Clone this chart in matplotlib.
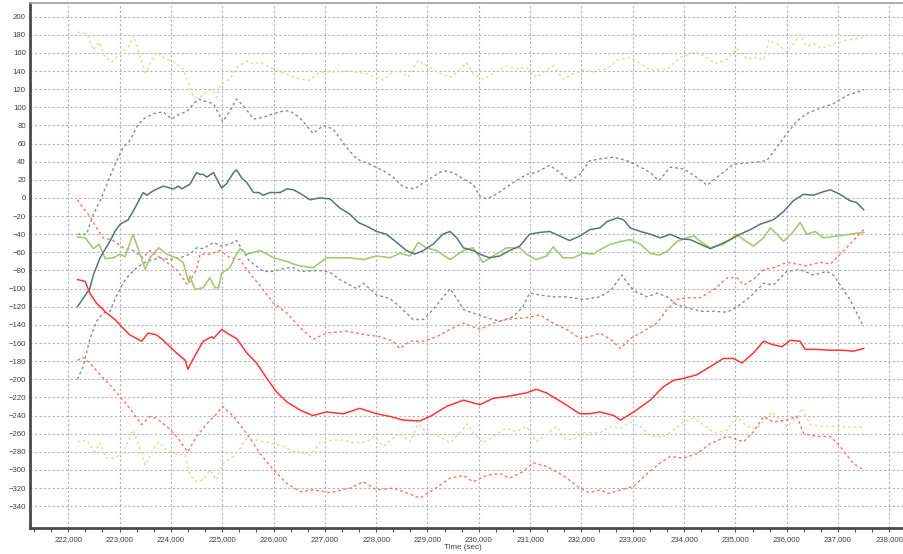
import matplotlib
matplotlib.use("Agg")
import matplotlib.pyplot as plt
from matplotlib.ticker import FuncFormatter, MultipleLocator

plt.rcParams["font.family"] = ["Liberation Sans", "DejaVu Sans"]

# gray series: mean and band
gray_mean_t = [222180, 222420, 222490, 222620, 222810, 222910, 223010, 223170, 223300, 223460, 223530, 223660,
               223850, 224050, 224150, 224210, 224370, 224500, 224570, 224630, 224700, 224830, 224930, 224990,
               225090, 225220, 225280, 225380, 225480, 225610, 225710, 225800, 225930, 226130, 226260, 226390,
               226520, 226710, 226900, 227100, 227290, 227490, 227650, 227810, 228010, 228200, 228400, 228590,
               228750, 228920, 229110, 229300, 229440, 229570, 229700, 229890, 230020, 230210, 230410, 230600,
               230800, 230990, 231190, 231380, 231580, 231770, 231970, 232160, 232360, 232500, 232700, 232820,
               232950, 233150, 233340, 233540, 233730, 233930, 234120, 234320, 234510, 234710, 234900, 235090,
               235290, 235480, 235740, 235940, 236130, 236330, 236520, 236720, 236850, 237040, 237230, 237360,
               237500]
gray_mean_v = [-120, -100, -85, -66, -48, -37, -29, -24, -11, 6, 3, 8,
               13, 10, 13, 10, 15, 28, 26, 26, 23, 28, 17, 11,
               16, 28, 31, 22, 17, 6, 6, 3, 6, 6, 10, 9,
               5, -2, 0, -1, -11, -18, -27, -31, -37, -40, -49, -58,
               -62, -58, -51, -40, -37, -44, -55, -58, -62, -66, -64, -58,
               -53, -40, -38, -37, -42, -47, -42, -35, -33, -26, -22, -24,
               -33, -37, -40, -44, -40, -45, -46, -51, -56, -51, -46, -40,
               -35, -29, -24, -15, -3, 4, 3, 7, 9, 4, -3, -5,
               -13]

gray_hi_t = [222180, 222360, 222490, 222620, 222810, 222910, 223070, 223200, 223330, 223460, 223660, 223850,
             224020, 224180, 224310, 224440, 224540, 224700, 224830, 224930, 225010, 225150, 225280, 225410,
             225610, 225800, 226000, 226200, 226320, 226520, 226770, 226970, 227160, 227420, 227620, 227880,
             228140, 228330, 228530, 228750, 228980, 229180, 229300, 229500, 229700, 229890, 230020, 230150,
             230340, 230540, 230730, 230930, 231120, 231380, 231580, 231770, 231970, 232160, 232360, 232630,
             232890, 233150, 233340, 233510, 233730, 233990, 234190, 234450, 234710, 234960, 235290, 235610,
             235810, 236000, 236200, 236390, 236650, 236910, 237170, 237500]
gray_hi_v = [-40, -40, -18, -3, 23, 37, 56, 63, 78, 87, 93, 95,
             87, 93, 95, 104, 109, 106, 104, 93, 84, 96, 109, 102,
             87, 89, 93, 96, 96, 88, 71, 80, 76, 56, 43, 37,
             30, 23, 12, 10, 19, 26, 30, 28, 21, 15, 2, -1,
             4, 12, 19, 26, 28, 36, 28, 19, 26, 41, 43, 45,
             41, 34, 28, 19, 34, 32, 25, 14, 26, 37, 39, 41,
             56, 71, 85, 93, 99, 104, 113, 119]

gray_lo_t = [222180, 222290, 222420, 222550, 222680, 222810, 222940, 223070, 223140, 223330, 223530, 223790,
             223980, 224180, 224370, 224500, 224630, 224830, 224960, 225150, 225280, 225380, 225510, 225610,
             225800, 226000, 226260, 226390, 226520, 226900, 227100, 227290, 227620, 227750, 228010, 228270,
             228460, 228720, 228920, 229110, 229440, 229630, 229700, 229890, 230150, 230410, 230670, 230860,
             230990, 231190, 231450, 231710, 232030, 232360, 232570, 232790, 232950, 233080, 233280, 233470,
             233670, 233860, 234060, 234320, 234580, 234840, 235030, 235290, 235550, 235740, 236000, 236260,
             236520, 236780, 236910, 237040, 237230, 237500]
gray_lo_v = [-200, -186, -156, -136, -127, -125, -108, -94, -88, -77, -70, -66,
             -68, -66, -62, -55, -56, -49, -53, -51, -47, -56, -68, -73,
             -81, -81, -77, -77, -81, -80, -82, -90, -100, -94, -107, -111,
             -120, -134, -134, -123, -100, -116, -123, -127, -132, -136, -131, -120,
             -105, -107, -109, -109, -112, -109, -102, -85, -98, -104, -109, -105,
             -109, -118, -121, -125, -125, -126, -120, -109, -94, -96, -81, -79,
             -85, -81, -85, -96, -112, -142]

# red series
red_mean_t = [222180, 222330, 222420, 222550, 222750, 222910, 223040, 223200, 223430, 223560, 223720, 223850,
              223980, 224110, 224280, 224330, 224440, 224630, 224800, 224830, 224990, 225150, 225280, 225480,
              225670, 225870, 226060, 226260, 226520, 226770, 227030, 227360, 227680, 228010, 228270, 228530,
              228850, 229050, 229370, 229700, 229890, 230020, 230280, 230540, 230930, 231120, 231320, 231640,
              231970, 232160, 232360, 232630, 232760, 233020, 233340, 233600, 233800, 233990, 234250, 234510,
              234770, 234960, 235130, 235350, 235550, 235740, 235910, 236070, 236260, 236360, 236590, 236850,
              237100, 237300, 237500]
red_mean_v = [-90, -92, -105, -116, -127, -134, -142, -151, -158, -149, -151, -157,
              -164, -171, -179, -189, -177, -158, -153, -155, -145, -151, -155, -171,
              -182, -199, -214, -225, -234, -240, -236, -238, -232, -238, -241, -245,
              -246, -241, -230, -223, -226, -228, -221, -219, -215, -211, -215, -226,
              -238, -238, -236, -240, -245, -236, -223, -208, -201, -199, -195, -186,
              -177, -177, -182, -171, -158, -162, -164, -157, -158, -167, -167, -168,
              -168, -169, -166]

red_hi_t = [222180, 222290, 222420, 222550, 222680, 222880, 223070, 223270, 223460, 223590, 223790, 223920,
            224110, 224330, 224500, 224570, 224760, 224960, 225150, 225350, 225480, 225740, 226000, 226260,
            226520, 226770, 227030, 227420, 227810, 228070, 228330, 228460, 228660, 228920, 229180, 229440,
            229700, 230020, 230280, 230540, 230930, 231190, 231450, 231710, 231970, 232160, 232360, 232570,
            232760, 232950, 233210, 233470, 233670, 233860, 234060, 234320, 234580, 234840, 235030, 235160,
            235350, 235550, 235740, 236000, 236200, 236390, 236650, 236850, 237040, 237230, 237500]
red_hi_v = [-2, -11, -20, -33, -44, -47, -55, -58, -66, -58, -66, -71,
            -79, -96, -79, -62, -62, -58, -66, -68, -79, -97, -116, -127,
            -143, -156, -149, -147, -151, -153, -158, -166, -158, -158, -153, -145,
            -138, -145, -138, -134, -132, -129, -138, -145, -155, -153, -149, -156,
            -166, -155, -147, -138, -123, -112, -110, -110, -101, -88, -88, -96,
            -90, -79, -77, -71, -73, -75, -71, -73, -62, -51, -35]

red_lo_t = [222180, 222290, 222420, 222620, 222810, 223010, 223200, 223430, 223590, 223720, 223920, 224110,
            224330, 224500, 224700, 224890, 225010, 225220, 225480, 225740, 226000, 226260, 226520, 226770,
            227100, 227490, 227750, 228010, 228330, 228590, 228850, 229110, 229440, 229700, 229890, 230150,
            230410, 230600, 230860, 231060, 231320, 231640, 231970, 232160, 232360, 232530, 232760, 233020,
            233280, 233540, 233730, 233990, 234250, 234510, 234840, 235160, 235350, 235550, 235740, 236000,
            236200, 236330, 236590, 236850, 237040, 237300, 237500]
red_lo_v = [-179, -176, -182, -195, -206, -219, -232, -250, -241, -243, -252, -263,
            -280, -263, -249, -238, -230, -241, -260, -282, -300, -315, -324, -322,
            -325, -320, -313, -322, -320, -325, -331, -322, -309, -306, -313, -306,
            -304, -309, -302, -292, -296, -306, -320, -325, -322, -326, -322, -318,
            -304, -292, -285, -287, -282, -271, -263, -269, -258, -241, -247, -245,
            -241, -260, -263, -263, -274, -293, -300]

# green series
green_mean_t = [222180, 222330, 222490, 222600, 222720, 222880, 223010, 223110, 223260, 223400, 223500, 223590,
                223760, 223920, 224110, 224240, 224340, 224370, 224470, 224630, 224760, 224860, 224930, 224990,
                225090, 225150, 225280, 225350, 225480, 225740, 226000, 226260, 226390, 226520, 226770, 227030,
                227230, 227490, 227750, 228010, 228270, 228460, 228660, 228820, 228980, 229180, 229440, 229700,
                229890, 230080, 230280, 230540, 230800, 230930, 231120, 231320, 231450, 231640, 231840, 232030,
                232230, 232360, 232570, 232760, 232950, 233150, 233340, 233510, 233670, 233860, 234060, 234190,
                234320, 234510, 234770, 235030, 235160, 235350, 235550, 235680, 235810, 235940, 236130, 236260,
                236390, 236550, 236720, 236980, 237230, 237500]
green_mean_v = [-43, -44, -56, -51, -67, -66, -62, -65, -40, -62, -79, -66,
                -55, -62, -66, -71, -92, -86, -101, -99, -88, -99, -99, -83,
                -79, -77, -62, -56, -62, -58, -66, -70, -73, -75, -77, -66,
                -66, -66, -68, -64, -66, -61, -64, -49, -55, -58, -68, -58,
                -55, -71, -64, -55, -55, -62, -68, -64, -54, -66, -66, -61,
                -62, -57, -51, -48, -46, -51, -61, -63, -59, -48, -44, -42,
                -48, -55, -51, -40, -46, -53, -44, -33, -40, -48, -37, -27,
                -40, -37, -44, -42, -40, -38]

green_hi_t = [222180, 222360, 222490, 222600, 222720, 222850, 223010, 223170, 223270, 223400, 223500, 223590,
              223720, 223850, 224050, 224240, 224340, 224440, 224570, 224700, 224800, 224890, 224990, 225150,
              225280, 225480, 225610, 225740, 225930, 226130, 226320, 226520, 226710, 226900, 227160, 227490,
              227810, 228140, 228270, 228460, 228620, 228820, 228980, 229180, 229440, 229630, 229760, 229890,
              230080, 230280, 230540, 230730, 230930, 231120, 231320, 231450, 231640, 231840, 232030, 232230,
              232360, 232500, 232700, 232950, 233150, 233340, 233670, 233930, 234190, 234380, 234610, 234840,
              235030, 235220, 235420, 235550, 235650, 235810, 236000, 236130, 236260, 236390, 236520, 236680,
              236910, 237170, 237500]
green_hi_v = [183, 181, 163, 172, 155, 150, 159, 166, 179, 155, 138, 148,
              161, 155, 150, 142, 126, 111, 111, 117, 120, 111, 127, 131,
              144, 151, 148, 150, 144, 139, 135, 131, 130, 139, 139, 140,
              137, 130, 137, 141, 133, 152, 146, 139, 133, 141, 149, 137,
              131, 137, 146, 142, 144, 133, 141, 146, 131, 137, 141, 139,
              142, 142, 152, 155, 148, 141, 142, 155, 161, 157, 148, 153,
              165, 153, 155, 152, 174, 170, 161, 170, 180, 167, 170, 165,
              170, 174, 177]

green_lo_t = [222180, 222360, 222520, 222620, 222750, 222910, 223070, 223270, 223400, 223500, 223630, 223760,
              223920, 224110, 224280, 224370, 224500, 224630, 224760, 224890, 225010, 225220, 225350, 225480,
              225670, 225930, 226200, 226390, 226520, 226710, 226900, 227160, 227360, 227550, 227810, 227970,
              228140, 228330, 228460, 228660, 228820, 228980, 229240, 229440, 229630, 229780, 229890, 230080,
              230280, 230540, 230730, 230930, 231120, 231320, 231510, 231710, 231900, 232030, 232360, 232570,
              232760, 232950, 233150, 233340, 233600, 233800, 233990, 234190, 234380, 234580, 234840, 235030,
              235220, 235420, 235610, 235710, 235870, 236000, 236200, 236290, 236460, 236720, 237040, 237500]
green_lo_v = [-269, -267, -280, -270, -287, -287, -280, -256, -278, -295, -280, -269,
              -278, -282, -284, -306, -313, -311, -300, -311, -293, -285, -276, -265,
              -267, -270, -274, -280, -280, -284, -270, -267, -267, -270, -269, -263,
              -274, -265, -259, -269, -249, -259, -263, -270, -259, -249, -259, -270,
              -263, -254, -258, -252, -269, -261, -252, -267, -265, -259, -259, -252,
              -254, -247, -252, -263, -263, -256, -247, -243, -250, -259, -256, -241,
              -252, -254, -243, -236, -245, -252, -243, -232, -250, -252, -252, -253]

dot = (0, (2, 2))

fig = plt.figure(figsize=(9.04, 5.54), dpi=100)
ax = fig.add_axes([30 / 904, 26 / 554, 874 / 904, 525 / 554])

# bands first, means on top
ax.plot(green_hi_t, green_hi_v, color="#d2e2aa", lw=1.0, ls=dot)
ax.plot(green_lo_t, green_lo_v, color="#d2e2aa", lw=1.0, ls=dot)
ax.plot(gray_hi_t, gray_hi_v, color="#7f9292", lw=1.0, ls=dot)
ax.plot(gray_lo_t, gray_lo_v, color="#7f9292", lw=1.0, ls=dot)
ax.plot(red_hi_t, red_hi_v, color="#ff7272", lw=1.0, ls=dot)
ax.plot(red_lo_t, red_lo_v, color="#ff7272", lw=1.0, ls=dot)
ax.plot(green_mean_t, green_mean_v, color="#a8c878", lw=1.2)
ax.plot(gray_mean_t, gray_mean_v, color="#5c7474", lw=1.1)
ax.plot(red_mean_t, red_mean_v, color="#ff3535", lw=1.1)

ax.set_xlim(221255, 238285)
ax.set_ylim(-364, 215)
ax.xaxis.set_major_locator(MultipleLocator(1000))
ax.xaxis.set_minor_locator(MultipleLocator(1000 / 3))
ax.xaxis.set_major_formatter(FuncFormatter(lambda x, p: f"{x:,.0f}"))
ax.set_yticks(range(-340, 201, 20))

ax.grid(True, which="major", color="#b2b2b2", lw=0.8, ls=dot)
ax.set_axisbelow(True)

ax.tick_params(axis="x", which="both", direction="out", length=3, width=0.8,
               color="#555555", labelsize=5.6, labelcolor="#404040", pad=2.5)
ax.tick_params(axis="y", length=0, labelsize=5.6, labelcolor="#404040", pad=3)

for s in ["left", "bottom"]:
    ax.spines[s].set_color("#4a4a4a")
    ax.spines[s].set_linewidth(2)
ax.spines["top"].set_color("#a0a0a0")
ax.spines["top"].set_linewidth(1.2)
ax.spines["right"].set_visible(False)

ax.set_xlabel("Time (sec)", fontsize=5.8, color="#404040", labelpad=1)
ax.xaxis.set_label_coords(0.495, -0.03)

fig.savefig("out.png", dpi=100)
